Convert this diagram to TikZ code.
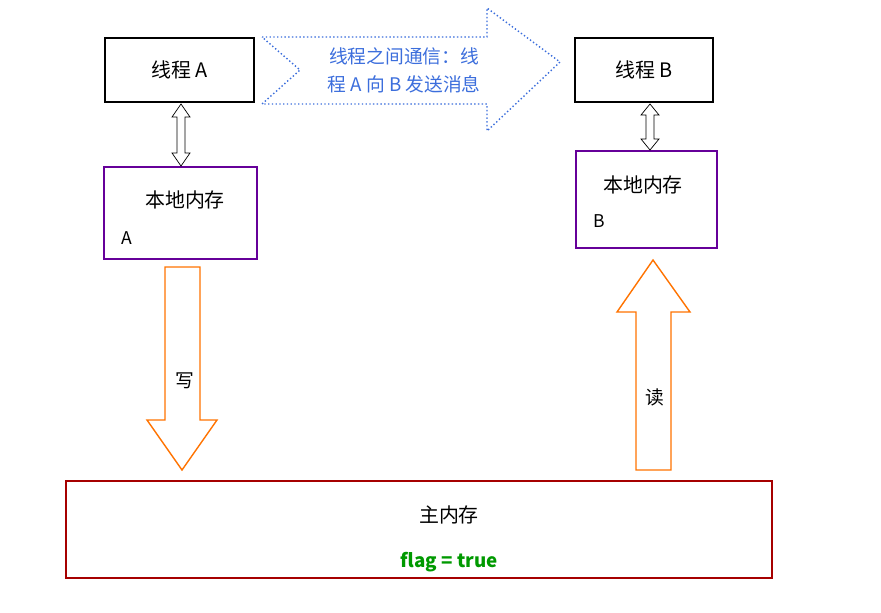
\documentclass[tikz,border=0pt]{standalone}
\usepackage{fontspec}
\setmainfont{Noto Sans CJK SC}
\definecolor{msgblue}{RGB}{60,110,220}
\begin{document}
\begin{tikzpicture}[x=0.03cm,y=-0.03cm,
  tbox/.style={draw=black,line width=1.6pt,minimum width=149*0.03cm,minimum height=64*0.03cm,font=\fontsize{17}{20}\selectfont},
  mbox/.style={draw=violet!80!blue,line width=1.4pt},
  orar/.style={draw=orange!90!red,line width=1.2pt,fill=white},
  dbl/.style={draw=black,line width=0.6pt,fill=white}]
\useasboundingbox (0,0) rectangle (881,612);
% threads
\node[tbox,anchor=north west] (ta) at (104,37) {线程 A};
\node[tbox,anchor=north west,minimum width=138*0.03cm] (tb) at (574,37) {线程 B};
% big dotted arrow
\draw[msgblue,dotted,line width=1.2pt] (262,37) -- (487,37) -- (487,8) -- (560,62) -- (487,131) -- (487,104) -- (262,104) -- (300,70) -- cycle;
\node[text=msgblue,align=center,font=\fontsize{16}{24}\selectfont] (msg) at (404,70) {线程之间通信：线\\程 A 向 B 发送消息};
% local memories
\draw[mbox] (104,167) rectangle (257,259);
\node[font=\fontsize{17}{20}\selectfont] (la) at (185,200) {本地内存};
\node[font=\fontsize{15}{17}\selectfont] (laa) at (127,238) {A};
\draw[mbox] (576,151) rectangle (717,248);
\node[font=\fontsize{17}{20}\selectfont] (lb) at (643,185) {本地内存};
\node[font=\fontsize{15}{17}\selectfont] (lbb) at (599,221) {B};
% double arrows
\draw[dbl] (181,104) -- (190,117) -- (185,117) -- (185,153) -- (190,153) -- (181,166) -- (172,153) -- (177,153) -- (177,117) -- (172,117) -- cycle;
\draw[dbl] (650,104) -- (659,115) -- (654,115) -- (654,139) -- (659,139) -- (650,150) -- (641,139) -- (646,139) -- (646,115) -- (641,115) -- cycle;
% write/read arrows
\draw[orar] (165,267) -- (200,267) -- (200,420) -- (217,420) -- (182,470) -- (147,420) -- (165,420) -- cycle;
\node[font=\fontsize{16}{18}\selectfont] (w) at (185,381) {写};
\draw[orar] (636,470) -- (671,470) -- (671,312) -- (690,312) -- (653,260) -- (617,312) -- (636,312) -- cycle;
\node[font=\fontsize{16}{18}\selectfont] (r) at (655,397) {读};
% main memory
\draw[draw=red!65!black,line width=1.6pt] (66,481) rectangle (772,578);
\node[font=\fontsize{17}{20}\selectfont] (mm) at (449,515) {主内存};
\node[text=green!60!black,font=\bfseries\fontsize{16}{18}\selectfont] (flag) at (449,562) {flag = true};
\end{tikzpicture}
\end{document}
